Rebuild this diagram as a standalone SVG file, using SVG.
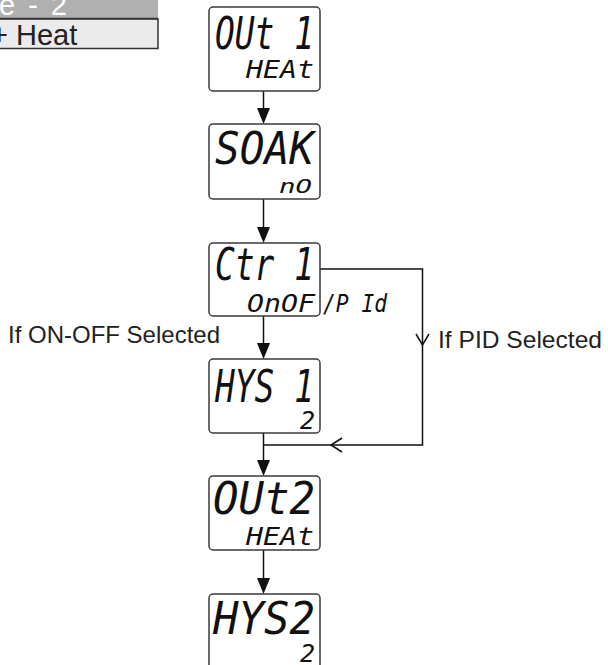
<svg xmlns="http://www.w3.org/2000/svg" width="608" height="665" viewBox="0 0 608 665">
<style>
.box{fill:#fff;stroke:#3a3a3a;stroke-width:1.5}
.seg{font-family:"DejaVu Sans Mono",monospace;font-style:oblique;fill:#111}
.big{font-size:45px}
.small{font-size:25px}
.lbl{font-family:"Liberation Sans",Arial,sans-serif;font-size:24px;fill:#222}
.ln{stroke:#111;stroke-width:1.5;fill:none}
.ah{fill:#111}
</style>
<g id="table">
<rect x="-2" y="-2" width="160" height="20" fill="#b0b0b0"/>
<rect x="-2" y="19" width="160" height="29.5" fill="#ebebeb" stroke="#333" stroke-width="1.5"/>
<line x1="-2" y1="18.5" x2="158" y2="18.5" stroke="#333" stroke-width="1.5"/>
<text x="-1" y="15" font-family="Liberation Sans,Arial,sans-serif" font-size="29" fill="#fff" textLength="68" lengthAdjust="spacing">e - 2</text>
<text x="-9" y="45" font-family="Liberation Sans,Arial,sans-serif" font-size="29" fill="#222">+ Heat</text>
</g>
<g id="connectors">
<line class="ln" x1="263.5" y1="91" x2="263.5" y2="110"/>
<path class="ah" d="M257,108 L270,108 L263.5,124 Z"/>
<line class="ln" x1="263.5" y1="199" x2="263.5" y2="229"/>
<path class="ah" d="M257,227 L270,227 L263.5,243 Z"/>
<line class="ln" x1="263.5" y1="316" x2="263.5" y2="345"/>
<path class="ah" d="M257,343 L270,343 L263.5,359 Z"/>
<line class="ln" x1="263.5" y1="433" x2="263.5" y2="462"/>
<path class="ah" d="M257,460 L270,460 L263.5,476 Z"/>
<line class="ln" x1="263.5" y1="550" x2="263.5" y2="580"/>
<path class="ah" d="M257,578 L270,578 L263.5,594 Z"/>
<polyline class="ln" points="320,269 422.5,269 422.5,445 263.5,445"/>
<polyline class="ln" points="416,334 422.5,345 429,334"/>
<polyline class="ln" points="342,438 331,445 342,452"/>
</g>
<g id="n1">
<rect class="box" x="209" y="7" width="111" height="84" rx="4"/>
<text class="seg big" x="215" y="49" textLength="99" lengthAdjust="spacingAndGlyphs">OUt 1</text>
<text class="seg small" x="246" y="78" textLength="68" lengthAdjust="spacingAndGlyphs">HEAt</text>
</g>
<g id="n2">
<rect class="box" x="209" y="124" width="111" height="75" rx="4"/>
<text class="seg big" x="215" y="164" textLength="99" lengthAdjust="spacingAndGlyphs">SOAK</text>
<text class="seg" font-size="19" x="279" y="193" textLength="33" lengthAdjust="spacingAndGlyphs">nO</text>
</g>
<g id="n3">
<rect class="box" x="209" y="243" width="111" height="73" rx="4"/>
<text class="seg big" x="215" y="280" textLength="99" lengthAdjust="spacingAndGlyphs">Ctr 1</text>
<text class="seg small" x="247" y="312" textLength="68" lengthAdjust="spacingAndGlyphs">OnOF</text>
<text class="seg small" x="323" y="312" textLength="64" lengthAdjust="spacingAndGlyphs">/P Id</text>
</g>
<g id="n4">
<rect class="box" x="209" y="359" width="111" height="74" rx="4"/>
<text class="seg big" x="215" y="402" textLength="99" lengthAdjust="spacingAndGlyphs">HYS 1</text>
<text class="seg small" x="300" y="429">2</text>
</g>
<g id="n5">
<rect class="box" x="209" y="476" width="111" height="74" rx="4"/>
<text class="seg big" x="213" y="514" textLength="102" lengthAdjust="spacingAndGlyphs">OUt2</text>
<text class="seg small" x="246" y="545" textLength="68" lengthAdjust="spacingAndGlyphs">HEAt</text>
</g>
<g id="n6">
<rect class="box" x="209" y="594" width="111" height="80" rx="4"/>
<text class="seg big" x="213" y="634" textLength="102" lengthAdjust="spacingAndGlyphs">HYS2</text>
<text class="seg small" x="300" y="662">2</text>
</g>
<g id="labels">
<text class="lbl" x="8" y="343" textLength="212" lengthAdjust="spacingAndGlyphs">If ON-OFF Selected</text>
<text class="lbl" x="438" y="348" textLength="164" lengthAdjust="spacingAndGlyphs">If PID Selected</text>
</g>
</svg>
